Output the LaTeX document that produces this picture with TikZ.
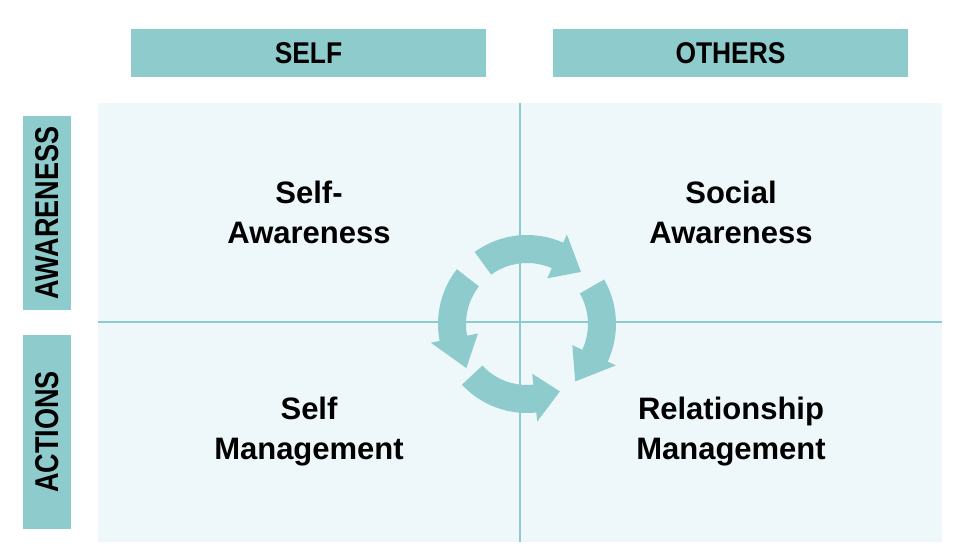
\documentclass[tikz,border=0pt]{standalone}
\usepackage{fontspec}
\setmainfont{Liberation Sans}
\newfontfamily\headfont{Liberation Sans}[FakeStretch=0.88]
\newfontfamily\sidefont{Liberation Sans}[FakeStretch=0.82]
\usetikzlibrary{calc}
\definecolor{TealClr}{RGB}{141,203,205}
\definecolor{PanelClr}{RGB}{238,247,249}

% start angle, head base angle, tip angle
\newcommand{\cycleArrow}[3]{%
  \fill[TealClr] ($(O)+(#1:89)$) arc[start angle=#1,end angle=#2,radius=89]
    -- ($(O)+(#2:98)$) -- ($(O)+(#3:75)$) -- ($(O)+(#2:50)$) -- ($(O)+(#2:61)$)
    arc[start angle=#2,end angle=#1,radius=61] -- cycle;}

\begin{document}
\begin{tikzpicture}[x=1pt,y=1pt,
  HeadBox/.style={fill=TealClr,minimum width=355pt,minimum height=48pt,inner sep=0pt,
    font=\headfont\bfseries\fontsize{30}{30}\selectfont},
  SideBox/.style={fill=TealClr,rotate=90,minimum width=194pt,minimum height=48pt,inner sep=0pt,
    font=\sidefont\bfseries\fontsize{33}{33}\selectfont},
  CellText/.style={align=center,font=\bfseries\fontsize{31}{40}\selectfont}]

\useasboundingbox (0,0) rectangle (958,556);

\coordinate (A) at (98,14);
\coordinate (B) at (942,14);
\coordinate (C) at (942,453);
\coordinate (D) at (98,453);
\coordinate (M) at (520,234);
\coordinate (O) at (527,232);

\fill[PanelClr] (A) rectangle (C);
\draw[TealClr,line width=2pt] (A -| M) -- (D -| M);
\draw[TealClr,line width=2pt] (A |- M) -- (B |- M);

\node[HeadBox] (self) at (308.5,503) {SELF};
\node[HeadBox] (others) at (730.5,503) {OTHERS};
\node[SideBox] (awareness) at (47,343) {AWARENESS};
\node[SideBox] (actions) at (47,124) {ACTIONS};

\node[CellText] (selfaw) at ($(D)!0.5!(M)$) {Self-\\Awareness};
\node[CellText] (socialaw) at ($(C)!0.5!(M)$) {Social\\Awareness};
\node[CellText] (selfman) at ($(A)!0.5!(M)$) {Self\\Management};
\node[CellText] (relman) at ($(B)!0.5!(M)$) {Relationship\\Management};

\cycleArrow{126}{66}{44}
\cycleArrow{30}{-25}{-50}
\cycleArrow{142}{191}{216}
\cycleArrow{223}{276}{296}

\end{tikzpicture}
\end{document}
